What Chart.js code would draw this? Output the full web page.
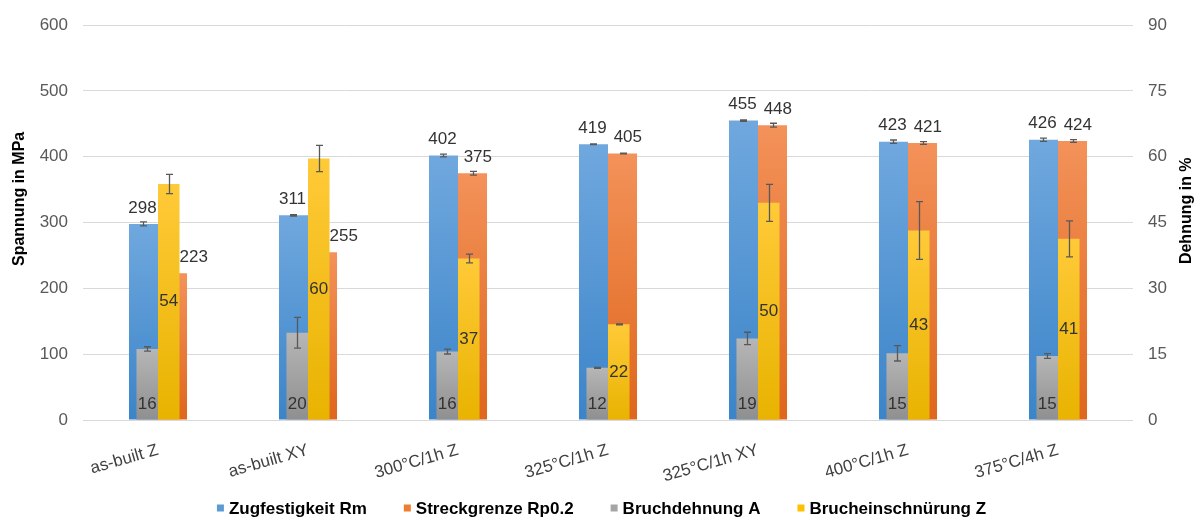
<!DOCTYPE html>
<html>
<head>
<meta charset="utf-8">
<script src="https://cdn.jsdelivr.net/npm/chart.js@4/dist/chart.umd.min.js"></script>
<style>
  html, body { margin: 0; padding: 0; background: #ffffff; }
  #wrap { width: 1203px; height: 523px; }
</style>
</head>
<body>
<div id="wrap"><canvas id="chart" width="1203" height="523"></canvas></div>
<script>
// Werkstoffzustände (Kategorien)
const categories = ['as-built Z', 'as-built XY', '300°C/1h Z', '325°C/1h Z', '325°C/1h XY', '400°C/1h Z', '375°C/4h Z'];

// Festigkeitswerte in MPa (linke Achse)
const zugfestigkeit    = [298, 311, 402, 419, 455, 423, 426];
const zugfestigkeitErr = [3, 1, 2, 0.5, 1, 2.5, 2.5];
const streckgrenze     = [223, 255, 375, 405, 448, 421, 424];
const streckgrenzeErr  = [0, 0, 3, 0.5, 3, 2, 2];

// Dehnungswerte in % (rechte Achse)
const bruchdehnung        = [16.2, 19.9, 15.6, 11.9, 18.6, 15.2, 14.6];
const bruchdehnungErr     = [0.5, 3.5, 0.55, 0.1, 1.4, 1.75, 0.55];
const brucheinschnuerung    = [53.8, 59.6, 36.8, 21.8, 49.5, 43.2, 41.3];
const brucheinschnuerungErr = [2.2, 3, 1, 0.1, 4.2, 6.6, 4.1];

// Achsenteilung
const spannungTicks = [0, 100, 200, 300, 400, 500, 600];
const dehnungTicks  = [0, 15, 30, 45, 60, 75, 90];

const FONT = "'Liberation Sans', Arial, Helvetica, sans-serif";

// vertical gradient for each bar, lighter on top
function barGradient(top, bottom) {
  return (ctx) => {
    const chart = ctx.chart;
    if (!chart.chartArea || ctx.type !== 'data') return bottom;
    const ds = chart.data.datasets[ctx.datasetIndex];
    const scale = chart.scales[ds.yAxisID];
    const yTop = scale.getPixelForValue(ds.data[ctx.dataIndex]);
    const yBase = scale.getPixelForValue(0);
    if (!isFinite(yTop) || !isFinite(yBase) || yTop === yBase) return bottom;
    const g = chart.ctx.createLinearGradient(0, yTop, 0, yBase);
    g.addColorStop(0, top);
    g.addColorStop(1, bottom);
    return g;
  };
}

// error bars with caps
const errorBarsPlugin = {
  id: 'errorBars',
  afterDatasetsDraw(chart) {
    const c = chart.ctx;
    c.save();
    c.strokeStyle = '#595959';
    c.lineWidth = 1.3;
    chart.data.datasets.forEach((ds, di) => {
      const meta = chart.getDatasetMeta(di);
      const scale = chart.scales[ds.yAxisID];
      meta.data.forEach((bar, i) => {
        const e = ds.errors[i];
        if (!e) return;
        const v = ds.data[i];
        const yHi = scale.getPixelForValue(v + e);
        const yLo = scale.getPixelForValue(v - e);
        const x = Math.round(bar.x) + 0.5;
        c.beginPath();
        c.moveTo(x, yHi); c.lineTo(x, yLo);
        c.moveTo(x - 3.5, yHi); c.lineTo(x + 3.5, yHi);
        c.moveTo(x - 3.5, yLo); c.lineTo(x + 3.5, yLo);
        c.stroke();
      });
    });
    c.restore();
  }
};

// value labels: above the bar, centred inside, or at the inside base
const valueLabelsPlugin = {
  id: 'valueLabels',
  afterDraw(chart) {
    const c = chart.ctx;
    c.save();
    c.font = `17px ${FONT}`;
    c.fillStyle = '#333333';
    c.textAlign = 'center';
    c.textBaseline = 'middle';
    const half = 9;
    const placedRight = {}; // right edge of the last label above the bars, per category
    chart.data.datasets.forEach((ds, di) => {
      const meta = chart.getDatasetMeta(di);
      meta.data.forEach((bar, i) => {
        const text = String(Math.round(ds.data[i]));
        const w = c.measureText(text).width;
        let cx = bar.x, cy;
        if (ds.labelMode === 'above') {
          cy = bar.y - 16;
          cx = bar.x + (ds.labelShift || 0);
          // keep a small gap to the neighbouring label
          if (placedRight[i] !== undefined) cx = Math.max(cx, placedRight[i] + 7 + w / 2);
          // move the label sideways when a bar drawn in front would cover it
          chart.data.datasets.forEach((other, oi) => {
            if (other.yAxisID === ds.yAxisID) return;
            const ob = chart.getDatasetMeta(oi).data[i];
            const oL = ob.x - ob.width / 2, oR = ob.x + ob.width / 2;
            const overlapY = cy + half > ob.y;
            const overlapX = cx - w / 2 < oR - 1 && cx + w / 2 > oL + 1;
            if (overlapX && overlapY) cx = oR + w / 2;
          });
          placedRight[i] = cx + w / 2;
        } else if (ds.labelMode === 'center') {
          cy = (bar.y + bar.base) / 2;
        } else {
          cy = bar.base - 15;
        }
        c.fillText(text, cx, cy);
      });
    });
    c.restore();
  }
};

// axis titles
const axisTitlesPlugin = {
  id: 'axisTitles',
  afterDraw(chart) {
    const c = chart.ctx;
    const a = chart.chartArea;
    c.save();
    c.font = `bold 16px ${FONT}`;
    c.fillStyle = '#000000';
    c.textAlign = 'center';
    c.textBaseline = 'middle';
    c.save();
    c.translate(20, a.top + (a.bottom - a.top) * 0.44);
    c.rotate(-Math.PI / 2);
    c.fillText('Spannung in MPa', 0, 0);
    c.restore();
    c.save();
    c.translate(1187, a.top + (a.bottom - a.top) * 0.47);
    c.rotate(-Math.PI / 2);
    c.fillText('Dehnung in %', 0, 0);
    c.restore();
    c.restore();
  }
};

// legend row below the axis
const legendPlugin = {
  id: 'legendRow',
  afterDraw(chart) {
    const c = chart.ctx;
    c.save();
    c.font = `bold 17px ${FONT}`;
    c.textBaseline = 'middle';
    c.textAlign = 'left';
    const box = 7, gapBox = 5, gapItem = 37;
    const items = chart.data.datasets.map(ds => ({ text: ds.label, color: ds.legendColor, w: c.measureText(ds.label).width }));
    const total = items.reduce((s, it) => s + box + gapBox + it.w, 0) + gapItem * (items.length - 1);
    let x = (chart.width - total) / 2;
    const y = 508;
    items.forEach(it => {
      c.fillStyle = it.color;
      c.fillRect(x, y - box / 2, box, box);
      c.fillStyle = '#000000';
      c.fillText(it.text, x + box + gapBox, y + 1);
      x += box + gapBox + it.w + gapItem;
    });
    c.restore();
  }
};

const primaryPct = 0.387;
const secondaryPct = 0.287;

new Chart(document.getElementById('chart'), {
  type: 'bar',
  data: {
    labels: categories,
    datasets: [
      {
        label: 'Zugfestigkeit Rm', data: zugfestigkeit, errors: zugfestigkeitErr,
        yAxisID: 'y', stack: 'links', order: 2,
        categoryPercentage: primaryPct, barPercentage: 1,
        backgroundColor: barGradient('#70a8de', '#3b84c9'), legendColor: '#5b9bd5',
        labelMode: 'above', labelShift: -1
      },
      {
        label: 'Streckgrenze Rp0.2', data: streckgrenze, errors: streckgrenzeErr,
        yAxisID: 'y', stack: 'rechts', order: 3,
        categoryPercentage: primaryPct, barPercentage: 1,
        backgroundColor: barGradient('#f3925a', '#df661c'), legendColor: '#ed7d31',
        labelMode: 'above', labelShift: 5
      },
      {
        label: 'Bruchdehnung A', data: bruchdehnung, errors: bruchdehnungErr,
        yAxisID: 'y2', stack: 'links', order: 0,
        categoryPercentage: secondaryPct, barPercentage: 1,
        backgroundColor: barGradient('#b6b6b6', '#8f8f8f'), legendColor: '#a5a5a5',
        labelMode: 'base'
      },
      {
        label: 'Brucheinschnürung Z', data: brucheinschnuerung, errors: brucheinschnuerungErr,
        yAxisID: 'y2', stack: 'rechts', order: 1,
        categoryPercentage: secondaryPct, barPercentage: 1,
        backgroundColor: barGradient('#ffca38', '#e8b300'), legendColor: '#ffc000',
        labelMode: 'center'
      }
    ]
  },
  options: {
    responsive: false,
    animation: false,
    events: [],
    layout: { padding: { top: 17, bottom: 35, left: 0, right: 0 } },
    plugins: { legend: { display: false }, tooltip: { enabled: false } },
    scales: {
      x: {
        type: 'category', offset: true,
        grid: { display: false, drawTicks: false },
        border: { display: false },
        ticks: { autoSkip: false, minRotation: 16, maxRotation: 16, padding: 20, color: '#404040', font: { family: FONT, size: 17 } },
        afterFit: (s) => { s.height = 68; }
      },
      y: {
        position: 'left', min: 0, max: 600, stacked: false,
        afterBuildTicks: (s) => { s.ticks = spannungTicks.map(v => ({ value: v })); },
        grid: { color: '#d9d9d9', lineWidth: 1, drawTicks: false },
        border: { display: false },
        ticks: { padding: 15, color: '#595959', font: { family: FONT, size: 17 } },
        afterFit: (s) => { s.width = 83; }
      },
      y2: {
        position: 'right', min: 0, max: 90, stacked: false,
        afterBuildTicks: (s) => { s.ticks = dehnungTicks.map(v => ({ value: v })); },
        grid: { drawOnChartArea: false, drawTicks: false },
        border: { display: false },
        ticks: { padding: 15, color: '#595959', font: { family: FONT, size: 17 } },
        afterFit: (s) => { s.width = 70; }
      }
    }
  },
  plugins: [errorBarsPlugin, valueLabelsPlugin, axisTitlesPlugin, legendPlugin]
});
</script>
</body>
</html>
